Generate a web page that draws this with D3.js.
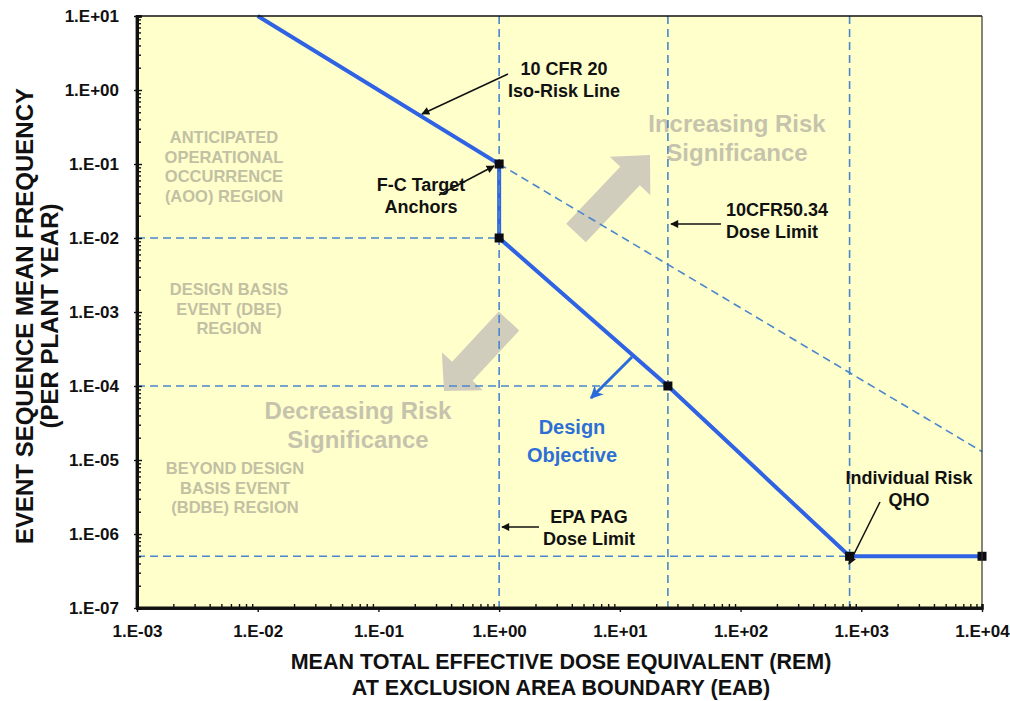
<!DOCTYPE html>
<html>
<head>
<meta charset="utf-8">
<script src="https://cdn.jsdelivr.net/npm/d3@7"></script>
<style>
  html, body { margin: 0; padding: 0; background: #ffffff; }
  svg { display: block; }
  text { font-family: "Liberation Sans", Arial, Helvetica, sans-serif; }
</style>
</head>
<body>
<svg id="chart" width="1010" height="701"></svg>
<script>
// ---------------- DATA ----------------
const xTicks = [1e-3, 1e-2, 1e-1, 1e0, 1e1, 1e2, 1e3, 1e4];
const xTickLabels = ["1.E-03", "1.E-02", "1.E-01", "1.E+00", "1.E+01", "1.E+02", "1.E+03", "1.E+04"];
const yTicks = [1e-7, 1e-6, 1e-5, 1e-4, 1e-3, 1e-2, 1e-1, 1e0, 1e1];
const yTickLabels = ["1.E-07", "1.E-06", "1.E-05", "1.E-04", "1.E-03", "1.E-02", "1.E-01", "1.E+00", "1.E+01"];

// F-C target curve (dose in rem, frequency per plant-year)
const fcDose = [0.01, 1, 1, 25, 800, 10000];
const fcFreq = [10, 0.1, 0.01, 1e-4, 5e-7, 5e-7];
// target anchors (black squares)
const anchorDose = [1, 1, 25, 800, 10000];
const anchorFreq = [0.1, 0.01, 1e-4, 5e-7, 5e-7];
// extension of the 10 CFR 20 iso-risk line (dashed)
const isoDose = [1, 10000];
const isoFreq = [0.1, 1.3e-5];
// dose limits (vertical dashed lines)
const doseLimits = [1, 25, 800];
// frequency boundaries (horizontal dashed lines) and the dose where each ends
const freqBounds = [1e-2, 1e-4, 5e-7];
const freqBoundEnds = [1, 25, 800];

// ---------------- LAYOUT ----------------
const svg = d3.select("#chart");
const L = 137, R = 982, T = 16, B = 608;
const x = d3.scaleLog().domain([1e-3, 1e4]).range([L, R]);
const y = d3.scaleLog().domain([1e-7, 1e1]).range([B, T]);

const dashBlue = "#4a86cc";
const solidBlue = "#2f63e3";
const regionGray = "#c2c0a3";
const bigGray = "#c6c3ad";
const arrowGray = "#d1cdbc";

// plot background
svg.append("rect").attr("x", L).attr("y", T).attr("width", R - L).attr("height", B - T)
  .attr("fill", "#ffffcc");

// ---------------- REGION TEXTS ----------------
function multiText(lines, cx, cy0, dy, size, color, weight, anchor) {
  const t = svg.append("text")
    .attr("font-size", size).attr("font-weight", weight || "bold")
    .attr("fill", color).attr("text-anchor", anchor || "middle");
  lines.forEach((s, i) => {
    t.append("tspan").attr("x", cx).attr("y", cy0 + i * dy).attr("dominant-baseline", "central").text(s);
  });
  return t;
}
multiText(["ANTICIPATED", "OPERATIONAL", "OCCURRENCE", "(AOO) REGION"], 224, 137, 19.5, 16.5, regionGray);
multiText(["DESIGN BASIS", "EVENT (DBE)", "REGION"], 229, 289, 19.5, 16.5, regionGray);
multiText(["BEYOND DESIGN", "BASIS EVENT", "(BDBE) REGION"], 235, 468, 19.5, 16.5, regionGray);
multiText(["Increasing Risk", "Significance"], 737, 123, 29, 24, bigGray);
multiText(["Decreasing Risk", "Significance"], 358, 410, 29, 24, bigGray);

// ---------------- GRAY BLOCK ARROWS ----------------
function blockArrow(x0, y0, x1, y1, shaftW, headW, headL, color) {
  const dx = x1 - x0, dy = y1 - y0, len = Math.hypot(dx, dy);
  const ux = dx / len, uy = dy / len, nx = -uy, ny = ux;
  const bx = x1 - ux * headL, by = y1 - uy * headL;
  const pts = [
    [x0 + nx * shaftW / 2, y0 + ny * shaftW / 2],
    [bx + nx * shaftW / 2, by + ny * shaftW / 2],
    [bx + nx * headW / 2, by + ny * headW / 2],
    [x1, y1],
    [bx - nx * headW / 2, by - ny * headW / 2],
    [bx - nx * shaftW / 2, by - ny * shaftW / 2],
    [x0 - nx * shaftW / 2, y0 - ny * shaftW / 2]
  ];
  svg.append("polygon").attr("points", pts.map(p => p.join(",")).join(" ")).attr("fill", color);
}
blockArrow(576, 233, 650, 155, 27, 56, 29, arrowGray);
blockArrow(509, 321, 444, 391, 28, 56, 27, arrowGray);

// ---------------- DASHED REFERENCE LINES ----------------
const g = svg.append("g");
const line = d3.line().x(d => x(d[0])).y(d => y(d[1]));
const fcData = fcDose.map((d, i) => [d, fcFreq[i]]);
g.append("path").datum(fcData).attr("d", line)
  .attr("fill", "none").attr("stroke", solidBlue).attr("stroke-width", 4).attr("stroke-linejoin", "miter");

const isoData = isoDose.map((d, i) => [d, isoFreq[i]]);
g.append("path").datum(isoData).attr("d", line)
  .attr("fill", "none").attr("stroke", dashBlue).attr("stroke-width", 1.6).attr("stroke-dasharray", "8,5");

g.selectAll("line.vlim").data(doseLimits).enter().append("line").attr("class", "vlim")
  .attr("x1", d => x(d)).attr("x2", d => x(d)).attr("y1", T).attr("y2", B)
  .attr("stroke", dashBlue).attr("stroke-width", 1.6).attr("stroke-dasharray", "8,5");

g.selectAll("line.hlim").data(freqBounds).enter().append("line").attr("class", "hlim")
  .attr("x1", L).attr("x2", (d, i) => x(freqBoundEnds[i])).attr("y1", d => y(d)).attr("y2", d => y(d))
  .attr("stroke", dashBlue).attr("stroke-width", 1.6).attr("stroke-dasharray", "8,5");

// anchors
const aSize = 9;
g.selectAll("rect.anchor").data(anchorDose.map((d, i) => [d, anchorFreq[i]])).enter()
  .append("rect").attr("class", "anchor")
  .attr("x", d => x(d[0]) - aSize / 2).attr("y", d => y(d[1]) - aSize / 2)
  .attr("width", aSize).attr("height", aSize).attr("fill", "#0b0b14");

// ---------------- ANNOTATIONS ----------------
const defs = svg.append("defs");
defs.append("marker").attr("id", "ahBlack").attr("viewBox", "0 0 10 10").attr("refX", 9).attr("refY", 5)
  .attr("markerWidth", 10).attr("markerHeight", 8).attr("markerUnits", "userSpaceOnUse").attr("orient", "auto")
  .append("path").attr("d", "M0,0 L10,5 L0,10 z").attr("fill", "#111");
defs.append("marker").attr("id", "ahBlue").attr("viewBox", "0 0 10 10").attr("refX", 9).attr("refY", 5)
  .attr("markerWidth", 16).attr("markerHeight", 13).attr("markerUnits", "userSpaceOnUse").attr("orient", "auto")
  .append("path").attr("d", "M0,0 L10,5 L0,10 L3,5 z").attr("fill", "#2a6bdc");

function pointer(x0, y0, x1, y1) {
  svg.append("line").attr("x1", x0).attr("y1", y0).attr("x2", x1).attr("y2", y1)
    .attr("stroke", "#111").attr("stroke-width", 1.5).attr("marker-end", "url(#ahBlack)");
}
multiText(["10 CFR 20", "Iso-Risk Line"], 564, 69, 22, 18, "#111");
pointer(508, 74, 422, 114);
multiText(["F-C Target", "Anchors"], 421, 185, 22, 18, "#111");
pointer(439, 195, 494, 166);
multiText(["10CFR50.34", "Dose Limit"], 726, 210, 22, 18, "#111", "bold", "start");
pointer(721, 224, 671, 224);
multiText(["EPA PAG", "Dose Limit"], 589, 517, 22, 18, "#111");
pointer(539, 527, 502, 527);
multiText(["Individual Risk", "QHO"], 909, 478, 22, 18, "#111");
pointer(880, 502, 849, 564);

// design objective
svg.append("line").attr("x1", 632).attr("y1", 357).attr("x2", 591).attr("y2", 398)
  .attr("stroke", "#2a6bdc").attr("stroke-width", 3).attr("marker-end", "url(#ahBlue)");
multiText(["Design", "Objective"], 572, 427, 28, 20, "#2e6fd6");

// ---------------- AXES ----------------
svg.append("line").attr("x1", L).attr("x2", R).attr("y1", T).attr("y2", T).attr("stroke", "#111").attr("stroke-width", 1.6);
svg.append("line").attr("x1", R).attr("x2", R).attr("y1", T).attr("y2", B).attr("stroke", "#333").attr("stroke-width", 1.2);

const minorX = [], minorY = [];
for (let e = -3; e < 4; e++) for (let k = 2; k <= 9; k++) minorX.push(k * Math.pow(10, e));
for (let e = -7; e < 1; e++) for (let k = 2; k <= 9; k++) minorY.push(k * Math.pow(10, e));

const xAxis = svg.append("g").attr("transform", `translate(0,${B})`)
  .call(d3.axisBottom(x).tickValues(xTicks).tickSizeInner(4).tickSizeOuter(0).tickPadding(13)
    .tickFormat((d, i) => xTickLabels[i]));
xAxis.append("g").call(d3.axisTop(x).tickValues(minorX).tickSize(4).tickFormat(""));
xAxis.selectAll("g.tick line").attr("stroke", "#111").attr("stroke-width", 1.4);

const yAxis = svg.append("g").attr("transform", `translate(${L},0)`)
  .call(d3.axisLeft(y).tickValues(yTicks).tickSizeInner(3).tickSizeOuter(0).tickPadding(15)
    .tickFormat((d, i) => yTickLabels[i]));
yAxis.append("g").call(d3.axisRight(y).tickValues(minorY).tickSize(4).tickFormat(""));
yAxis.append("g").call(d3.axisRight(y).tickValues(yTicks).tickSize(5).tickFormat(""));
yAxis.selectAll("g.tick line").attr("stroke", "#111").attr("stroke-width", 1.4);

[xAxis, yAxis].forEach(a => {
  a.selectAll("path.domain").attr("stroke", "#111").attr("stroke-width", 2.6);
  a.selectAll("text").attr("font-size", 17).attr("font-weight", "bold").attr("fill", "#111")
    .attr("font-family", "'Liberation Sans', Arial, sans-serif");
});
svg.append("line").attr("x1", L).attr("x2", L).attr("y1", T - 1).attr("y2", B + 1).attr("stroke", "#111").attr("stroke-width", 2.8);
svg.append("line").attr("x1", L - 1).attr("x2", R + 1).attr("y1", B).attr("y2", B).attr("stroke", "#111").attr("stroke-width", 2.8);

// axis titles
svg.append("text").attr("x", 561).attr("y", 662).attr("text-anchor", "middle").attr("dominant-baseline", "central")
  .attr("font-size", 21.5).attr("font-weight", "bold").attr("fill", "#111")
  .text("MEAN TOTAL EFFECTIVE DOSE EQUIVALENT  (REM)");
svg.append("text").attr("x", 561).attr("y", 688).attr("text-anchor", "middle").attr("dominant-baseline", "central")
  .attr("font-size", 21.5).attr("font-weight", "bold").attr("fill", "#111")
  .text("AT EXCLUSION AREA BOUNDARY (EAB)");
const yt = svg.append("text").attr("transform", "translate(0,316) rotate(-90)").attr("text-anchor", "middle")
  .attr("font-size", 24).attr("font-weight", "bold").attr("fill", "#111");
yt.append("tspan").attr("x", 0).attr("y", 24).attr("dominant-baseline", "central").text("EVENT SEQUENCE MEAN FREQUENCY");
yt.append("tspan").attr("x", 0).attr("y", 49).attr("dominant-baseline", "central").text("(PER PLANT YEAR)");
</script>
</body>
</html>
